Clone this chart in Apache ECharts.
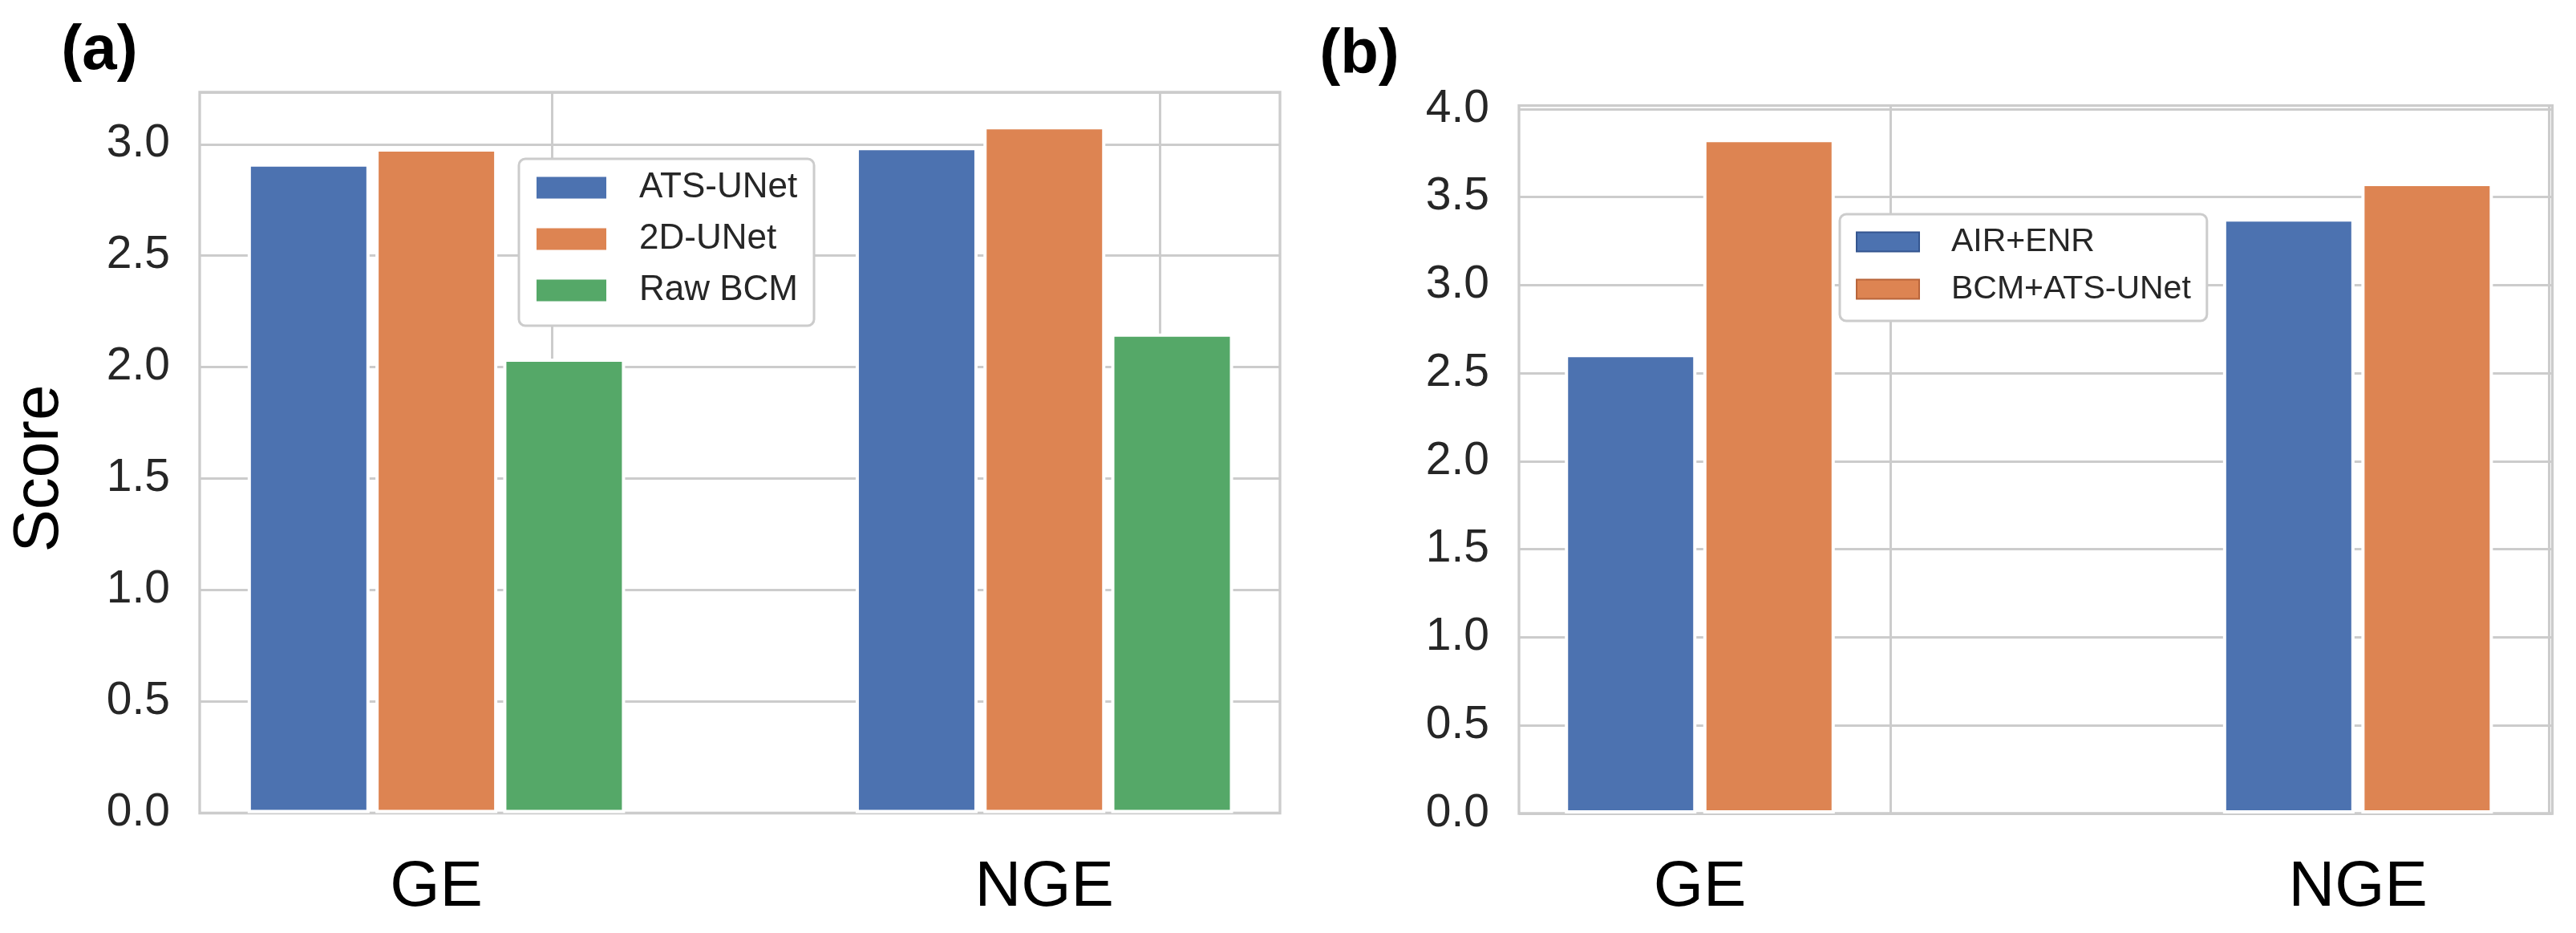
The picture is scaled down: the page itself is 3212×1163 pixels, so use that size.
<!DOCTYPE html>
<html><head><meta charset="utf-8">
<script src="https://cdn.jsdelivr.net/npm/echarts@6/dist/echarts.min.js"></script>
<style>html,body{margin:0;padding:0;background:#fff}#c{width:3212px;height:1163px}</style>
</head><body><div id="c"></div>
<script>
// ---- data ----
const categories = ['GE', 'NGE'];
const groupPos = [0, 1];
const seriesNamesA = ['ATS-UNet', '2D-UNet', 'Raw BCM'];
const atsUNet = [2.914, 2.987];
const unet2d = [2.981, 3.081];
const rawBCM = [2.038, 2.151];
const seriesNamesB = ['AIR+ENR', 'BCM+ATS-UNet'];
const airEnr = [2.609, 3.379];
const bcmAtsUNet = [3.830, 3.581];
const yTickStep = 0.5;
const vGridA = [0.191, 1.19];
const vGridB = [0.293, 1.293];

// ---- style ----
const FONT = "'Liberation Sans', Arial, Helvetica, sans-serif";
const BLUE = '#4c72b0', ORANGE = '#dd8452', GREEN = '#55a868';
const GRIDC = '#cccccc';

const chart = echarts.init(document.getElementById('c'), null, {renderer: 'canvas'});

function toPairs(vals) { return groupPos.map((x, i) => [x, vals[i]]); }
function xFmt(v) {
  const i = groupPos.findIndex(p => Math.abs(p - v) < 1e-6);
  return i >= 0 ? categories[i] : '';
}
function yFmt(v) {
  const k = v / yTickStep;
  return Math.abs(k - Math.round(k)) < 1e-6 ? v.toFixed(1) : '';
}
function gridLineSeries(gi, list) {
  return {
    type: 'line', xAxisIndex: gi, yAxisIndex: gi, data: [], silent: true, z: 1,
    markLine: {
      silent: true, symbol: 'none', z: 1, animation: false,
      label: {show: false}, emphasis: {disabled: true},
      lineStyle: {color: GRIDC, width: 3, type: 'solid'},
      data: list.map(x => ({xAxis: x}))
    }
  };
}
function xAxisDef(gi, min, max) {
  return {
    type: 'value', gridIndex: gi, min: min, max: max,
    axisLine: {show: false}, axisTick: {show: false}, splitLine: {show: false},
    axisLabel: {customValues: groupPos, formatter: xFmt, fontSize: 80, color: '#000',
      fontFamily: FONT, margin: 53, showMinLabel: true, showMaxLabel: true}
  };
}
function yAxisDef(gi, max) {
  return {
    type: 'value', gridIndex: gi, min: 0, max: max, interval: yTickStep,
    axisLine: {show: false}, axisTick: {show: false},
    splitLine: {show: true, lineStyle: {color: GRIDC, width: 3}},
    axisLabel: {formatter: yFmt, fontSize: 57, color: '#262626', fontFamily: FONT,
      margin: 37, showMaxLabel: false}
  };
}
function barSeries(name, vals, color, xi, w, gap) {
  return {
    name: name, type: 'bar', xAxisIndex: xi, yAxisIndex: xi, z: 2,
    data: toPairs(vals), barWidth: w, barGap: gap,
    itemStyle: {color: color, borderColor: '#ffffff', borderWidth: 4},
    emphasis: {disabled: true}
  };
}

const option = {
  animation: false,
  backgroundColor: '#ffffff',
  grid: [
    {left: 249, top: 115, right: 1616, bottom: 149.5, show: true, borderColor: GRIDC, borderWidth: 3.3, backgroundColor: 'transparent'},
    {left: 1894, top: 131.6, right: 29.5, bottom: 149, show: true, borderColor: GRIDC, borderWidth: 3.3, backgroundColor: 'transparent'}
  ],
  xAxis: [xAxisDef(0, -0.3893, 1.3875), xAxisDef(1, -0.2748, 1.2954)],
  yAxis: [yAxisDef(0, 3.233), yAxisDef(1, 4.02)],
  legend: [
    {
      orient: 'vertical', left: 647, top: 198, icon: 'rect',
      itemWidth: 87, itemHeight: 27, itemGap: 20,
      padding: [14, 20, 22, 22],
      backgroundColor: '#ffffff', borderColor: GRIDC, borderWidth: 3, borderRadius: 8,
      itemStyle: {borderWidth: 0},
      textStyle: {fontSize: 44, lineHeight: 44, color: '#262626', fontFamily: FONT, padding: [0, 0, 0, 36]},
      data: seriesNamesA, selectedMode: false
    },
    {
      orient: 'vertical', left: 2294, top: 267, icon: 'rect',
      itemWidth: 78, itemHeight: 24, itemGap: 18,
      padding: [14, 20, 19, 20],
      backgroundColor: '#ffffff', borderColor: GRIDC, borderWidth: 3, borderRadius: 8,
      textStyle: {fontSize: 41, lineHeight: 41, color: '#262626', fontFamily: FONT, padding: [0, 0, 0, 35]},
      data: [
        {name: seriesNamesB[0], itemStyle: {borderColor: '#34558f', borderWidth: 2}},
        {name: seriesNamesB[1], itemStyle: {borderColor: '#b8643a', borderWidth: 2}}
      ],
      selectedMode: false
    }
  ],
  series: [
    gridLineSeries(0, vGridA),
    gridLineSeries(1, vGridB),
    barSeries(seriesNamesA[0], atsUNet, BLUE, 0, 152, '4.8%'),
    barSeries(seriesNamesA[1], unet2d, ORANGE, 0, 152, '4.8%'),
    barSeries(seriesNamesA[2], rawBCM, GREEN, 0, 152, '4.8%'),
    barSeries(seriesNamesB[0], airEnr, BLUE, 1, 164, '5.2%'),
    barSeries(seriesNamesB[1], bcmAtsUNet, ORANGE, 1, 164, '5.2%')
  ],
  graphic: [
    {type: 'text', x: 124, y: 64, style: {text: '(a)', font: 'bold 78px ' + FONT, fill: '#000', textAlign: 'center', textVerticalAlign: 'middle'}},
    {type: 'text', x: 1695, y: 69, style: {text: '(b)', font: 'bold 78px ' + FONT, fill: '#000', textAlign: 'center', textVerticalAlign: 'middle'}},
    {type: 'text', x: 50, y: 584, rotation: Math.PI / 2, style: {text: 'Score', font: '80px ' + FONT, fill: '#000', textAlign: 'center', textVerticalAlign: 'middle'}}
  ]
};
chart.setOption(option);
</script>
</body></html>
